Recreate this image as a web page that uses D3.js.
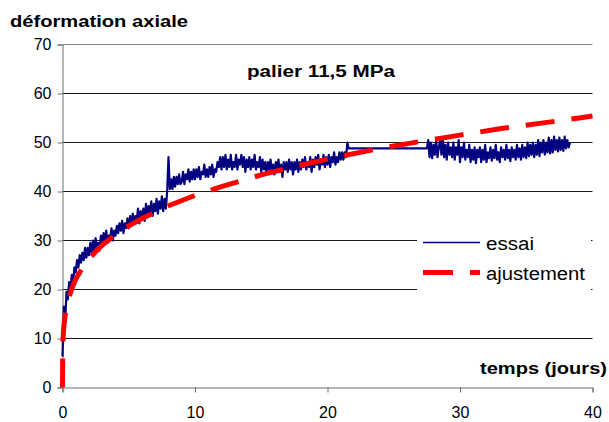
<!DOCTYPE html>
<html>
<head>
<meta charset="utf-8">
<script src="https://cdn.jsdelivr.net/npm/d3@7/dist/d3.min.js"></script>
<style>
  body { margin: 0; background: #fff; }
  text { font-family: Arial, "Liberation Sans", Helvetica, sans-serif; }
</style>
</head>
<body>
<svg id="chart" width="609" height="422"></svg>
<script>
// Axis ticks
const xTicks = [0, 10, 20, 30, 40];
const yTicks = [0, 10, 20, 30, 40, 50, 60, 70];

// Measured creep strain ("essai"), first record: starts at day 0, one reading every 0.1 day
const essaiStartA = 0;
const essaiStepA = 0.1;
const essaiA = [
  6.3, 16.5, 13, 19.5, 18, 21.5, 20, 23, 21.5, 24.5,
  23.5, 26, 24.5, 27, 25.5, 27.5, 26, 28.5, 26.5, 28.5,
  27, 29.5, 27.5, 30, 28, 30.5, 28.5, 29.5, 28, 31,
  29.5, 31.5, 30, 32, 29.5, 31, 30.5, 32.5, 30, 32,
  31, 33, 31.5, 33.5, 32, 34, 31.5, 33.5, 32.5, 34.5,
  32.5, 35, 33, 35.5, 33.5, 35, 34, 36.5, 33.5, 36,
  34.5, 36.5, 34, 37.5, 35, 37, 35.5, 38, 35, 37.5,
  36, 38.5, 35.5, 38, 36.5, 39, 36, 38.5, 36.5, 40,
  47, 40.5, 42.5, 40.5, 43, 41, 43, 41.5, 43.5, 41.5,
  42, 44, 41.5, 43.5, 42.5, 44.5, 42, 44, 42.5, 44.5,
  42.5, 44.5, 43, 45, 42.5, 44, 43.5, 45.5, 43, 44.5,
  43, 45, 43.5, 45.5, 43, 44.5, 44, 46, 45, 47,
  44.5, 47, 45, 47.5, 44.5, 46.5, 45, 47.5, 44.5, 46,
  45, 47.5, 44.5, 46.5, 45.5, 47.5, 45, 47, 44, 46.5,
  45, 47, 44.5, 46.5, 45, 47.5, 44.5, 46, 45, 47,
  44, 46.5, 44.5, 46, 43.5, 46, 44.5, 46.5, 44, 45.5,
  43.5, 46, 44.5, 46.5, 44, 45.5, 43, 46, 44.5, 46,
  44, 46.5, 44.5, 46, 43.5, 46, 44.5, 46.5, 44, 46,
  44.5, 46.5, 45, 47, 44.5, 46, 45, 47, 44, 46.5,
  45, 47, 45.5, 47.5, 44.5, 46.5, 45.5, 47.5, 45, 47,
  45.5, 47.5, 45, 47, 46, 48, 45.5, 47, 46, 48,
  46.5, 48, 46.5, 48, 47, 50, 48.8
];

// Second record: resumes at day 27.5 after the interruption (drawn as a straight link)
const essaiStartB = 27.5;
const essaiStepB = 0.1;
const essaiB = [
  48.8,
  50.5, 47, 50, 46.8, 49.5, 47.5, 50.5, 47, 49,
  50.5, 47.5, 51, 47, 49.5, 46.5, 50, 47.5, 49, 47,
  50, 46.5, 49, 47.5, 50.5, 46, 49, 47, 50, 46.5,
  48.5, 47, 49.5, 46, 48.5, 46.5, 49, 45.8, 48.5, 47,
  49, 46, 48.5, 46.5, 49.5, 46, 48, 46.8, 49, 46.3,
  48.5, 46.8, 49.5, 46.5, 48, 46, 49, 47, 48.5, 46.5,
  49.5, 46.8, 48.5, 46.2, 49, 47, 48.5, 46.5, 49.5, 47,
  48.8, 46.5, 49.5, 47, 49, 46.8, 50, 47.2, 49.5, 47.5,
  50, 47, 49.5, 47.5, 50.5, 47.2, 50, 48, 50.5, 47.5,
  50, 48, 51, 47.8, 50.5, 48, 51.2, 48.5, 50.5, 48.2,
  51, 48.5, 50.5, 48.3, 51.2, 48.8, 50.5, 49, 50
];

// Fitted creep law ("ajustement")
const fitDays = [0, 0.02, 0.05, 0.1, 0.2, 0.4, 0.7, 1, 1.5, 2, 3, 4, 5, 6, 8, 10, 12, 15, 18, 21, 24, 27, 30, 33, 36, 39, 40];
const fitStrain = [0, 8.3, 10.5, 12.5, 14.8, 17.6, 20.2, 22.1, 24.4, 26.3, 29.1, 31.2, 33.0, 34.5, 37.1, 39.2, 41.0, 43.4, 45.4, 47.2, 48.8, 50.2, 51.5, 52.8, 53.9, 55.0, 55.4];

const seriesNames = ["essai", "ajustement"];

const svg = d3.select("#chart");

const x = d3.scaleLinear().domain([0, 40]).range([62.5, 592.5]);
const y = d3.scaleLinear().domain([0, 70]).range([387.5, 44.5]);

// Horizontal gridlines
svg.append("g").selectAll("line")
  .data(yTicks.filter(v => v > 0))
  .join("line")
  .attr("x1", x(0)).attr("x2", x(40))
  .attr("y1", d => y(d)).attr("y2", d => y(d))
  .attr("stroke", d => d === 70 ? "#8a8a8a" : "#1a1a1a")
  .attr("stroke-width", 1);

// Y axis
const yAxis = svg.append("g")
  .attr("transform", `translate(${x(0)},0)`)
  .call(d3.axisLeft(y).tickValues(yTicks).tickSize(5).tickPadding(6).tickFormat(d3.format("d")));
yAxis.select(".domain").attr("stroke", "#6e6e6e");
yAxis.selectAll(".tick line").attr("stroke", "#6e6e6e");
yAxis.selectAll(".tick text")
  .attr("font-size", 16).attr("fill", "#000")
  .style("font-family", "Arial, 'Liberation Sans', sans-serif");

// X axis
const xAxis = svg.append("g")
  .attr("transform", `translate(0,${y(0)})`)
  .call(d3.axisBottom(x).tickValues(xTicks).tickSize(5).tickPadding(14).tickFormat(d3.format("d")));
xAxis.select(".domain").attr("stroke", "#6e6e6e");
xAxis.selectAll(".tick line").attr("stroke", "#6e6e6e");
xAxis.selectAll(".tick text")
  .attr("font-size", 16).attr("fill", "#000")
  .style("font-family", "Arial, 'Liberation Sans', sans-serif");

// Build the measured series points
const essaiPoints = [];
essaiA.forEach((v, i) => essaiPoints.push([essaiStartA + i * essaiStepA, v]));
essaiB.forEach((v, i) => essaiPoints.push([essaiStartB + i * essaiStepB, v]));

const line = d3.line().x(d => x(d[0])).y(d => y(d[1]));

svg.append("path")
  .datum(essaiPoints)
  .attr("d", line)
  .attr("fill", "none")
  .attr("stroke", "#000080")
  .attr("stroke-width", 2.2)
  .attr("stroke-linejoin", "round");

// Fitted curve, dashed red
svg.append("path")
  .datum(fitDays.map((t, i) => [t, fitStrain[i]]))
  .attr("d", line)
  .attr("fill", "none")
  .attr("stroke", "#ff0000")
  .attr("stroke-width", 5)
  .attr("stroke-dasharray", "29,17");

// Legend
const legend = svg.append("g");
legend.append("rect")
  .attr("x", 417).attr("y", 226).attr("width", 174).attr("height", 72)
  .attr("fill", "#fff");
legend.append("line")
  .attr("x1", 423).attr("x2", 480).attr("y1", 242.5).attr("y2", 242.5)
  .attr("stroke", "#000080").attr("stroke-width", 1.6);
legend.append("line")
  .attr("x1", 423).attr("x2", 480).attr("y1", 272.5).attr("y2", 272.5)
  .attr("stroke", "#ff0000").attr("stroke-width", 5)
  .attr("stroke-dasharray", "30,17");
legend.append("text")
  .attr("x", 486).attr("y", 250)
  .attr("font-size", 18).attr("textLength", 48).attr("lengthAdjust", "spacingAndGlyphs")
  .text(seriesNames[0]);
legend.append("text")
  .attr("x", 486).attr("y", 280)
  .attr("font-size", 18).attr("textLength", 99).attr("lengthAdjust", "spacingAndGlyphs")
  .text(seriesNames[1]);

// Titles
svg.append("text")
  .attr("x", 10).attr("y", 27)
  .attr("font-size", 17).attr("font-weight", "bold")
  .attr("textLength", 178).attr("lengthAdjust", "spacingAndGlyphs")
  .text("déformation axiale");

svg.append("text")
  .attr("x", 247).attr("y", 77)
  .attr("font-size", 16).attr("font-weight", "bold")
  .attr("textLength", 148).attr("lengthAdjust", "spacingAndGlyphs")
  .text("palier 11,5 MPa");

svg.append("text")
  .attr("x", 480).attr("y", 374)
  .attr("font-size", 17).attr("font-weight", "bold")
  .attr("textLength", 127).attr("lengthAdjust", "spacingAndGlyphs")
  .text("temps (jours)");
</script>
</body>
</html>
